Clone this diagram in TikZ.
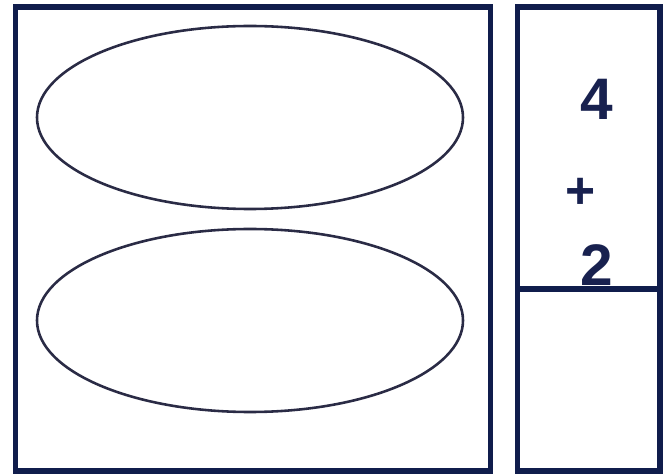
\documentclass[tikz,border=0pt]{standalone}
\usepackage{fontspec}
\setmainfont{Liberation Sans}
\usepackage{xcolor}
\usepackage{tikz}
\usetikzlibrary{shapes.geometric}

\begin{document}
\begin{tikzpicture}[x=0.3mm, y=-0.3mm]
  \definecolor{framenavy}{HTML}{101D4C}
  \definecolor{ovalgray}{HTML}{2A2B45}
  \definecolor{digitnavy}{HTML}{18214F}
  \tikzset{
    frame/.style={draw=framenavy, line width=5pt},
    oval/.style={draw=ovalgray, line width=2.2pt, ellipse, inner sep=0pt,
                 minimum width=213mm*0.6, minimum height=91.5mm*0.6},
    digit/.style={text=digitnavy, font=\fontsize{50}{50}\selectfont\bfseries, inner sep=0pt},
    sign/.style={text=digitnavy, font=\fontsize{44}{44}\selectfont\bfseries, inner sep=0pt}
  }
  \useasboundingbox (0,0) rectangle (669,474);

  % left panel with the two groups
  \draw[frame] (15.5,7) rectangle (490.5,471);
  \node[oval] (topgroup) at (250,117.5) {};
  \node[oval] (bottomgroup) at (250,320.5) {};

  % right panel
  \draw[frame] (517.5,7) rectangle (660,471);

  \node[digit] (four) at (597,99) {4};
  \node[sign] (plus) at (581,193) {+};
  \node[digit] (two) at (597,265) {2};
  \draw[frame] (517.5,289) -- (660,289);
\end{tikzpicture}
\end{document}
